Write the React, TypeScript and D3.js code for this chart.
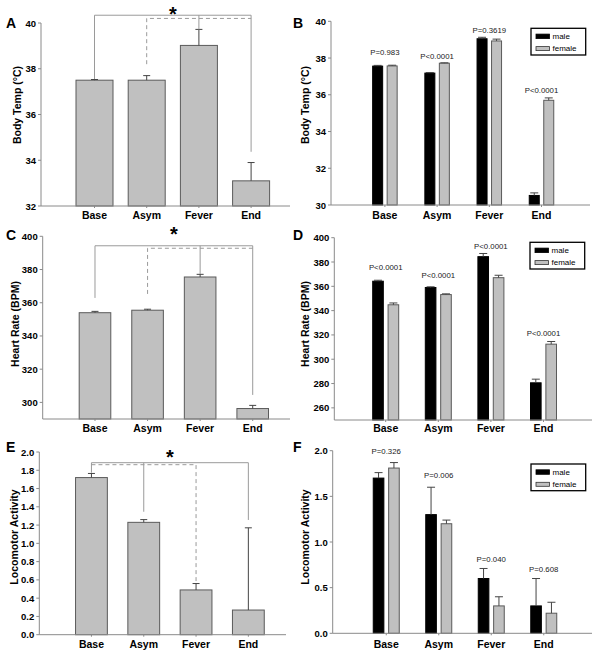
import React from 'react';
import * as d3 from 'd3';

// ---------- data ----------
const categories = ['Base', 'Asym', 'Fever', 'End'];
const sexes = ['male', 'female'];

// Panel A: body temperature, all animals
const tempAll = [37.5, 37.5, 39.02, 33.1];
const tempAllSem = [0.03, 0.2, 0.7, 0.8];
// Panel B: body temperature by sex
const tempMale = [37.56, 37.18, 39.05, 30.52];
const tempMaleSem = [0.04, 0.03, 0.08, 0.14];
const tempFemale = [37.57, 37.72, 38.93, 35.7];
const tempFemaleSem = [0.04, 0.02, 0.1, 0.13];
const tempP = ['P=0.983', 'P<0.0001', 'P=0.3619', 'P<0.0001'];
const tempPAt = [38.31, 38.11, 39.49, 36.26];

// Panel C: heart rate, all animals
const hrAll = [354, 355.5, 375.5, 296.3];
const hrAllSem = [0.8, 0.6, 1.6, 1.9];
// Panel D: heart rate by sex
const hrMale = [364.2, 359, 384.4, 280.6];
const hrMaleSem = [0.8, 0.6, 2.6, 3.0];
const hrFemale = [344.8, 353.2, 367.1, 312.4];
const hrFemaleSem = [1.5, 0.6, 2.0, 2.2];
const hrP = ['P<0.0001', 'P<0.0001', 'P<0.0001', 'P<0.0001'];
const hrPAt = [375.1, 369.1, 392.4, 321.4];

// Panel E: locomotor activity, all animals
const locoAll = [1.72, 1.23, 0.49, 0.27];
const locoAllSem = [0.045, 0.03, 0.07, 0.9];
// Panel F: locomotor activity by sex
const locoMale = [1.7, 1.3, 0.6, 0.3];
const locoMaleSem = [0.06, 0.3, 0.11, 0.3];
const locoFemale = [1.81, 1.2, 0.3, 0.22];
const locoFemaleSem = [0.06, 0.04, 0.1, 0.12];
const locoP = ['P=0.326', 'P=0.006', 'P=0.040', 'P=0.608'];
const locoPAt = [1.986, 1.723, 0.81, 0.7];

// significance brackets (category, value) and star level
type Bracket = { pts: [string, number][]; dashed: boolean };
const tempBrackets: Bracket[] = [
  { pts: [['Base', 37.55], ['Base', 40.34], ['End', 40.34], ['End', 34.37]], dashed: false },
  { pts: [['Fever', 40.34], ['Fever', 39.72]], dashed: false },
  { pts: [['Asym', 38.2], ['Asym', 40.2], ['End', 40.2]], dashed: true },
];
const tempStarAt = 40.57;
const hrBrackets: Bracket[] = [
  { pts: [['Base', 362.9], ['Base', 394.3], ['End', 394.3], ['End', 304.5]], dashed: false },
  { pts: [['Fever', 394.3], ['Fever', 377.3]], dashed: false },
  { pts: [['Asym', 365.3], ['Asym', 392.8], ['End', 392.8]], dashed: true },
];
const hrStarAt = 403.8;
const locoBrackets: Bracket[] = [
  { pts: [['Base', 1.773], ['Base', 1.883], ['End', 1.883], ['End', 1.256]], dashed: false },
  { pts: [['Asym', 1.883], ['Asym', 1.346]], dashed: false },
  { pts: [['Base', 1.861], ['Fever', 1.861], ['Fever', 0.574]], dashed: true },
];
const locoStarAt = 1.989;

// ---------- styles ----------
const FONT = '"Liberation Sans", Arial, Helvetica, sans-serif';
const AXIS = '#8a8a8a';
const BAR_GRAY = '#c0c0c0';
const BAR_EDGE = '#5a5a5a';
const SIG = '#9a9a9a';

type Cfg = {
  axisX: number; xRight: number; yTop: number; yBottom: number;
  domain: [number, number]; ticks: number[]; fmt: (n: number) => string;
  band: [number, number]; barW: number;
  title: string; titleX: number; titleY: number;
  letter: string; letterX: number; letterY: number; labelY: number;
  legend?: [number, number];
};

function Axes({ cfg, y, x }: { cfg: Cfg; y: d3.ScaleLinear<number, number>; x: d3.ScaleBand<string> }) {
  return (
    <g>
      <line x1={cfg.axisX} x2={cfg.axisX} y1={cfg.yTop} y2={cfg.yBottom} stroke={AXIS} strokeWidth={1} />
      <line x1={cfg.axisX} x2={cfg.xRight} y1={cfg.yBottom} y2={cfg.yBottom} stroke={AXIS} strokeWidth={1} />
      {cfg.ticks.map((t) => (
        <g key={t}>
          <line x1={cfg.axisX - 3} x2={cfg.axisX} y1={y(t)} y2={y(t)} stroke={AXIS} />
          <text x={cfg.axisX - 5} y={y(t)} textAnchor="end" dominantBaseline="central"
            fontFamily={FONT} fontWeight="bold" fontSize={9.5} fill="#000">{cfg.fmt(t)}</text>
        </g>
      ))}
      {categories.map((c) => (
        <g key={c}>
          <line x1={x(c)! + x.bandwidth() / 2} x2={x(c)! + x.bandwidth() / 2}
            y1={cfg.yBottom} y2={cfg.yBottom + 2} stroke={AXIS} />
          <text x={x(c)! + x.bandwidth() / 2} y={cfg.labelY} textAnchor="middle" dominantBaseline="central"
            fontFamily={FONT} fontWeight="bold" fontSize={10.5} fill="#000">{c}</text>
        </g>
      ))}
      <text transform={`translate(${cfg.titleX},${cfg.titleY}) rotate(-90)`} textAnchor="middle"
        dominantBaseline="central" fontFamily={FONT} fontWeight="bold" fontSize={10.5} fill="#000">{cfg.title}</text>
      <text x={cfg.letterX} y={cfg.letterY} fontFamily={FONT} fontWeight="bold" fontSize={14} fill="#000">{cfg.letter}</text>
    </g>
  );
}

function makeScales(cfg: Cfg) {
  const y = d3.scaleLinear().domain(cfg.domain).range([cfg.yBottom, cfg.yTop]);
  const step = (cfg.band[1] - cfg.band[0]) / categories.length;
  const pi = 1 - cfg.barW / step;
  const x = d3.scaleBand<string>().domain(categories).range(cfg.band).paddingInner(pi).paddingOuter(pi / 2);
  return { x, y };
}

function SinglePanel({ cfg, values, sems, brackets, starAt }:
  { cfg: Cfg; values: number[]; sems: number[]; brackets: Bracket[]; starAt: number }) {
  const { x, y } = makeScales(cfg);
  const cx = (c: string) => x(c)! + x.bandwidth() / 2;
  const line = d3.line<[string, number]>().x((d) => cx(d[0])).y((d) => y(d[1]));
  const starX = (cx('Base') + cx('End')) / 2;
  return (
    <g>
      {categories.map((c, i) => {
        const top = y(values[i]);
        const et = y(values[i] + sems[i]);
        return (
          <g key={c}>
            <rect x={x(c)} y={top} width={x.bandwidth()} height={cfg.yBottom - top}
              fill={BAR_GRAY} stroke={BAR_EDGE} strokeWidth={1} />
            <line x1={cx(c)} x2={cx(c)} y1={top} y2={et} stroke="#444" />
            <line x1={cx(c) - 3.5} x2={cx(c) + 3.5} y1={et} y2={et} stroke="#444" />
          </g>
        );
      })}
      <Axes cfg={cfg} x={x} y={y} />
      {brackets.map((b, i) => (
        <path key={i} d={line(b.pts) || ''} fill="none" stroke={SIG} strokeWidth={1}
          strokeDasharray={b.dashed ? '4,3' : undefined} />
      ))}
      <text x={starX} y={y(starAt) + 11} textAnchor="middle" fontFamily={FONT} fontWeight="bold"
        fontSize={20} fill="#000">*</text>
    </g>
  );
}

function GroupPanel({ cfg, male, maleSem, female, femaleSem, pLabels, pAt }:
  { cfg: Cfg; male: number[]; maleSem: number[]; female: number[]; femaleSem: number[]; pLabels: string[]; pAt: number[] }) {
  const { x, y } = makeScales(cfg);
  const sub = d3.scaleBand<string>().domain(sexes).range([0, x.bandwidth()]).paddingInner(0.31);
  const series: Record<string, { v: number[]; s: number[]; fill: string; edge: string }> = {
    male: { v: male, s: maleSem, fill: '#000', edge: '#000' },
    female: { v: female, s: femaleSem, fill: BAR_GRAY, edge: BAR_EDGE },
  };
  const lg = cfg.legend!;
  return (
    <g>
      {categories.map((c, i) => (
        <g key={c}>
          {sexes.map((s) => {
            const bx = x(c)! + sub(s)!;
            const top = y(series[s].v[i]);
            const et = y(series[s].v[i] + series[s].s[i]);
            const mx = bx + sub.bandwidth() / 2;
            return (
              <g key={s}>
                <rect x={bx} y={top} width={sub.bandwidth()} height={cfg.yBottom - top}
                  fill={series[s].fill} stroke={series[s].edge} strokeWidth={1} />
                <line x1={mx} x2={mx} y1={top} y2={et} stroke="#444" />
                <line x1={mx - 4} x2={mx + 4} y1={et} y2={et} stroke="#444" />
              </g>
            );
          })}
          <text x={x(c)! + x.bandwidth() / 2} y={y(pAt[i])} textAnchor="middle" dominantBaseline="central"
            fontFamily={FONT} fontSize={7.8} fill="#222">{pLabels[i]}</text>
        </g>
      ))}
      <Axes cfg={cfg} x={x} y={y} />
      <g>
        <rect x={lg[0]} y={lg[1]} width={54.7} height={26.7} fill="#fff" stroke="#000" strokeWidth={1.3} />
        <rect x={lg[0] + 5} y={lg[1] + 5.8} width={13.5} height={4.5} fill="#000" stroke="#000" strokeWidth={0.8} />
        <rect x={lg[0] + 5} y={lg[1] + 18.3} width={13.5} height={4} fill={BAR_GRAY} stroke="#333" strokeWidth={0.8} />
        <text x={lg[0] + 21.5} y={lg[1] + 8.4} dominantBaseline="central" fontFamily={FONT} fontSize={8} fill="#000">male</text>
        <text x={lg[0] + 21.5} y={lg[1] + 20.6} dominantBaseline="central" fontFamily={FONT} fontSize={8} fill="#000">female</text>
      </g>
    </g>
  );
}

const fmtInt = d3.format('d');
const fmt1 = d3.format('.1f');

const cfgA: Cfg = { axisX: 41, xRight: 290, yTop: 23, yBottom: 206, domain: [32, 40], ticks: d3.range(32, 41, 2), fmt: fmtInt,
  band: [68.4, 277.2], barW: 37, title: 'Body Temp (°C)', titleX: 16.5, titleY: 105, letter: 'A', letterX: 6, letterY: 28.3, labelY: 215 };
const cfgB: Cfg = { axisX: 331, xRight: 590, yTop: 21.3, yBottom: 205, domain: [30, 40], ticks: d3.range(30, 41, 2), fmt: fmtInt,
  band: [358.8, 567.6], barW: 24.5, title: 'Body Temp (°C)', titleX: 304.5, titleY: 105, letter: 'B', letterX: 293, letterY: 28.3, labelY: 215, legend: [531, 28.3] };
const cfgC: Cfg = { axisX: 42.7, xRight: 290, yTop: 236.3, yBottom: 419, domain: [290, 400], ticks: d3.range(300, 401, 20), fmt: fmtInt,
  band: [68.7, 279], barW: 31.6, title: 'Heart Rate (BPM)', titleX: 14.5, titleY: 324, letter: 'C', letterX: 6, letterY: 240, labelY: 428 };
const cfgD: Cfg = { axisX: 334.3, xRight: 592, yTop: 237.7, yBottom: 420, domain: [250, 400], ticks: d3.range(260, 401, 20), fmt: fmtInt,
  band: [359.4, 569.8], barW: 26, title: 'Heart Rate (BPM)', titleX: 304.5, titleY: 324, letter: 'D', letterX: 293, letterY: 240, labelY: 428, legend: [530, 242.3] };
const cfgE: Cfg = { axisX: 39.3, xRight: 286, yTop: 452, yBottom: 634.7, domain: [0, 2], ticks: d3.range(0, 11).map((i) => i * 0.2), fmt: fmt1,
  band: [65.3, 274.5], barW: 31.8, title: 'Locomotor Activity', titleX: 14, titleY: 537, letter: 'E', letterX: 6, letterY: 452, labelY: 644 };
const cfgF: Cfg = { axisX: 332.7, xRight: 592, yTop: 450.7, yBottom: 633.3, domain: [0, 2], ticks: [0, 0.5, 1, 1.5, 2], fmt: fmt1,
  band: [360, 570], barW: 26, title: 'Locomotor Activity', titleX: 305, titleY: 537, letter: 'F', letterX: 293, letterY: 452, labelY: 644, legend: [531, 464] };

export default function App() {
  return (
    <svg width={602} height={656} style={{ position: 'absolute', left: 0, top: 0, background: '#fff' }}>
      <rect x={0} y={0} width={602} height={656} fill="#fff" />
      <SinglePanel cfg={cfgA} values={tempAll} sems={tempAllSem} brackets={tempBrackets} starAt={tempStarAt} />
      <GroupPanel cfg={cfgB} male={tempMale} maleSem={tempMaleSem} female={tempFemale} femaleSem={tempFemaleSem} pLabels={tempP} pAt={tempPAt} />
      <SinglePanel cfg={cfgC} values={hrAll} sems={hrAllSem} brackets={hrBrackets} starAt={hrStarAt} />
      <GroupPanel cfg={cfgD} male={hrMale} maleSem={hrMaleSem} female={hrFemale} femaleSem={hrFemaleSem} pLabels={hrP} pAt={hrPAt} />
      <SinglePanel cfg={cfgE} values={locoAll} sems={locoAllSem} brackets={locoBrackets} starAt={locoStarAt} />
      <GroupPanel cfg={cfgF} male={locoMale} maleSem={locoMaleSem} female={locoFemale} femaleSem={locoFemaleSem} pLabels={locoP} pAt={locoPAt} />
    </svg>
  );
}
